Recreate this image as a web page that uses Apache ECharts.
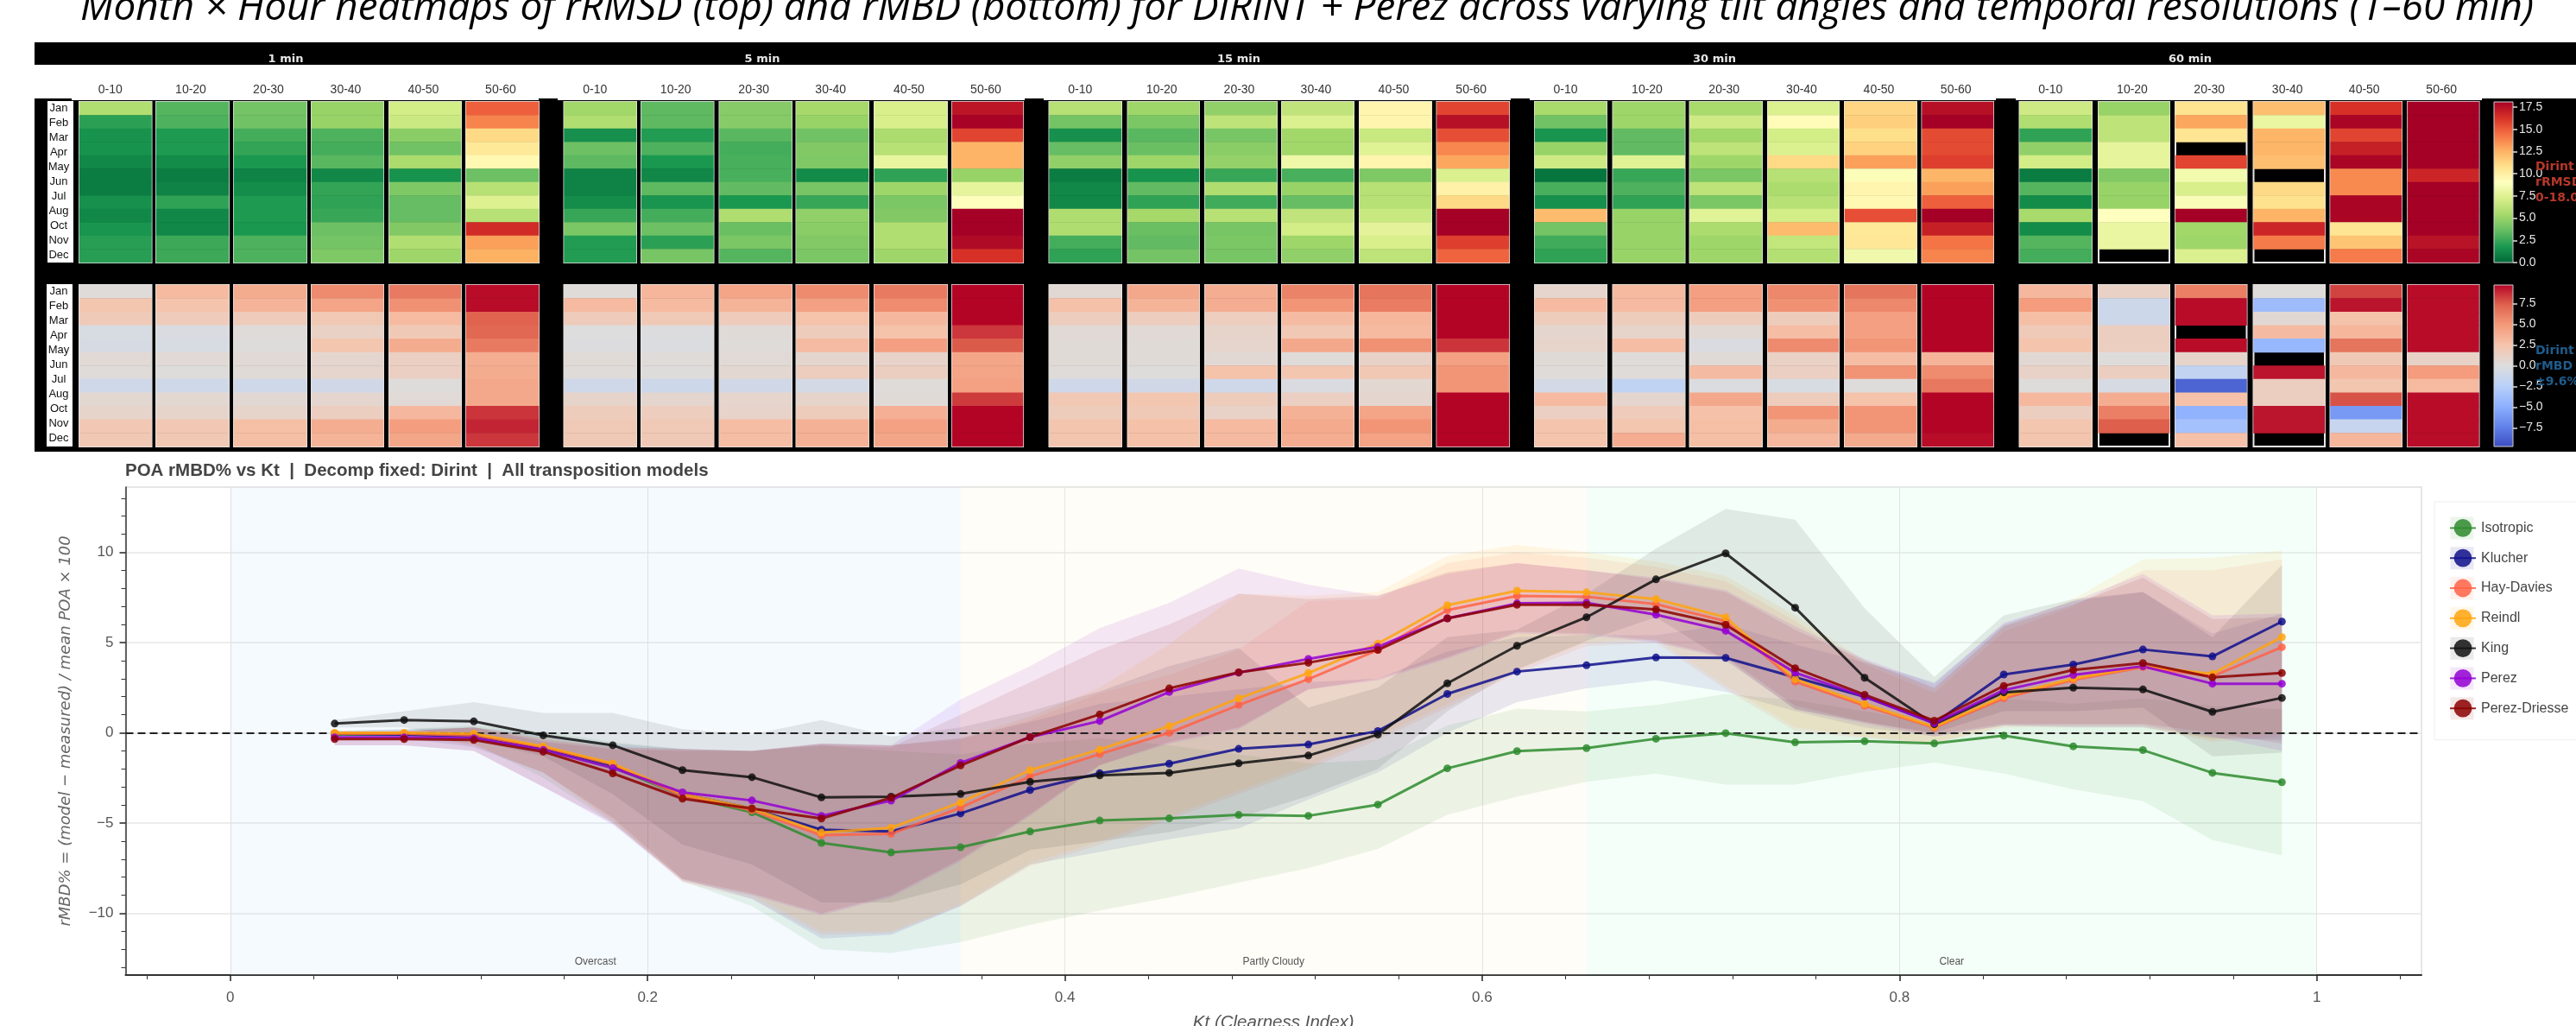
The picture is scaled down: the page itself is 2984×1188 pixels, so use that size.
<!DOCTYPE html>
<html>
<head>
<meta charset="utf-8">
<title>DIRINT + Perez heatmaps and rMBD vs Kt</title>
<style>
html, body { margin: 0; padding: 0; background: #fff; overflow: hidden; }
#main { width: 2984px; height: 1188px; }
</style>
<script src="https://cdn.jsdelivr.net/npm/echarts@6/dist/echarts.min.js"></script>
</head>
<body>
<div id="main"></div>
<script>
// heatmap categories
var tiltBins = ['0-10', '10-20', '20-30', '30-40', '40-50', '50-60'];
var monthRows = ['Jan', 'Feb', 'Mar', 'Apr', 'May', 'Jun', 'Jul', 'Aug', 'Sep', 'Oct', 'Nov', 'Dec'];
var monthLabels = ['Jan', 'Feb', 'Mar', 'Apr', 'May', 'Jun', 'Jul', 'Aug', 'Oct', 'Nov', 'Dec'];
var resolutions = ['1 min', '5 min', '15 min', '30 min', '60 min'];

// rRMSD % : one row per tilt bin, Jan..Dec, null = no data
var rmsd1 = [
  [5.8, 2.2, 1.6, 1.6, 1.2, 0.8, 0.8, 1.5, 1.2, 1.7, 2.1, 2.1],
  [3.2, 3.0, 1.9, 1.9, 1.3, 0.8, 1.0, 2.3, 1.2, 1.2, 2.6, 2.6],
  [4.0, 3.9, 2.8, 2.4, 1.8, 1.0, 1.4, 1.9, 1.9, 1.8, 3.0, 3.0],
  [5.0, 5.0, 3.0, 2.8, 3.3, 1.2, 2.4, 2.3, 2.5, 3.8, 4.0, 4.3],
  [7.0, 6.7, 4.6, 3.9, 5.6, 1.6, 4.3, 3.6, 3.6, 4.4, 5.8, 5.2],
  [14.8, 13.8, 11.0, 10.3, 9.4, 3.8, 6.0, 7.4, 6.0, 16.4, 13.0, 12.5]
];
var rmsd5 = [
  [5.3, 5.8, 1.5, 3.8, 3.4, 1.0, 1.0, 1.4, 2.5, 4.2, 2.0, 2.0],
  [3.4, 3.4, 2.0, 3.0, 1.8, 1.2, 3.4, 1.7, 2.8, 3.8, 2.2, 4.1],
  [4.5, 4.5, 3.3, 2.8, 2.9, 2.9, 3.5, 1.8, 5.7, 3.7, 4.2, 3.2],
  [5.4, 5.0, 3.9, 4.4, 4.3, 1.3, 4.1, 2.5, 4.8, 4.6, 4.4, 4.2],
  [7.2, 7.2, 5.6, 6.0, 7.9, 2.3, 5.2, 4.2, 4.4, 5.8, 5.8, 5.2],
  [17.2, 17.9, 15.6, 12.4, 12.4, 5.0, 7.8, 8.9, 18, 18, 17.6, 16.2]
];
var rmsd15 = [
  [6.0, 4.0, 1.5, 3.6, 4.8, 0.8, 1.2, 1.2, 5.7, 5.7, 2.8, 2.3],
  [5.2, 4.2, 3.3, 3.7, 5.2, 1.6, 3.5, 2.3, 5.4, 3.7, 3.5, 4.0],
  [4.8, 6.2, 4.1, 4.6, 4.9, 2.5, 5.7, 2.7, 6.0, 4.1, 4.2, 4.1],
  [6.3, 7.3, 5.3, 5.3, 8.2, 2.9, 5.0, 3.6, 6.3, 7.0, 5.2, 4.8],
  [9.6, 9.6, 6.6, 7.5, 9.6, 4.3, 6.0, 6.0, 6.6, 7.7, 7.2, 6.2],
  [15.6, 17.4, 15.3, 13.7, 12.8, 7.3, 9.8, 11.0, 18, 18, 15.8, 14.7]
];
var rmsd30 = [
  [5.5, 3.9, 1.7, 5.0, 6.8, 0.5, 2.9, 1.5, 12.1, 4.0, 2.7, 2.3],
  [5.2, 5.2, 3.5, 3.5, 7.5, 2.5, 3.0, 2.3, 5.0, 5.0, 5.0, 5.0],
  [5.5, 6.8, 5.3, 6.2, 5.2, 4.2, 6.2, 4.2, 7.6, 5.6, 5.2, 5.2],
  [7.3, 9.2, 7.0, 7.3, 11.0, 6.0, 5.6, 6.0, 7.0, 12.1, 6.4, 5.9],
  [11.2, 11.4, 10.8, 11.3, 13.0, 8.8, 9.6, 9.4, 15.3, 10.3, 10.4, 8.3],
  [17.4, 18, 15.4, 15.4, 15.8, 12.3, 13.0, 14.8, 18, 16.8, 14.2, 13.8]
];
var rmsd60 = [
  [6.8, 5.8, 2.3, 4.8, 7.0, 0.7, 3.2, 1.3, 5.5, 1.3, 3.2, 2.8],
  [5.0, 6.2, 6.2, 7.8, 7.8, 4.4, 5.0, 5.0, 9.0, 8.0, 8.0, null],
  [10.6, 12.8, 10.5, null, 15.6, 8.4, 7.2, 8.7, 18, 5.3, 5.2, 7.3],
  [12.0, 8.0, 12.3, 12.3, 12.0, null, 11.0, 10.7, 12.4, 16.6, 14.0, null],
  [16.2, 17.8, 15.6, 16.8, 17.8, 13.6, 13.6, 17.8, 17.8, 10.5, 11.8, 14.0],
  [18, 18, 18, 18, 18, 16.6, 18, 18, 18, 18, 17.3, 17.8]
];

// rMBD %
var mbd1 = [
  [0.2, 2.2, 1.8, -0.4, -0.5, 0.4, 0.2, -1.0, 0.6, 0.9, 2.0, 2.0],
  [3.0, 2.4, 1.7, -0.3, -0.4, 0.4, 0.1, -1.0, 0.6, 0.9, 2.0, 2.0],
  [3.8, 3.3, 1.7, 0.2, 0.1, 0.4, 0.3, -1.0, 0.5, 0.9, 2.7, 2.7],
  [5.5, 4.2, 2.0, 1.2, 2.2, 0.7, 0.8, -0.9, 0.7, 1.4, 3.7, 3.4],
  [6.2, 5.2, 3.0, 1.9, 3.8, 1.3, 1.3, 0.1, 0.4, 3.1, 4.6, 4.1],
  [9.4, 9.4, 7.2, 7.0, 6.2, 3.7, 3.8, 4.0, 4.0, 8.4, 8.8, 8.3]
];
var mbd5 = [
  [0.2, 3.0, 1.7, 0.0, -0.1, 0.3, 0.2, -1.0, 0.9, 1.6, 1.9, 1.9],
  [3.2, 3.0, 1.9, -0.1, -0.2, 0.2, 0.1, -1.1, 0.7, 1.5, 1.9, 1.9],
  [4.2, 3.4, 1.7, 0.3, 0.2, 0.4, 0.6, -0.9, 0.8, 1.0, 2.8, 2.8],
  [5.5, 4.4, 2.5, 1.6, 2.9, 0.7, 1.5, -0.7, 0.9, 1.6, 3.5, 3.5],
  [6.2, 5.4, 3.1, 2.5, 4.5, 1.0, 1.4, 0.2, 0.3, 3.6, 4.4, 4.1],
  [9.6, 9.6, 9.6, 8.3, 7.4, 4.1, 4.2, 4.4, 8.2, 9.6, 9.6, 9.6]
];
var mbd15 = [
  [0.5, 2.6, 1.5, 0.4, 0.3, 0.3, 0.2, -1.0, 2.0, 1.6, 2.3, 2.3],
  [4.0, 3.4, 1.5, 0.4, 0.3, 0.3, 0.1, -0.9, 2.2, 1.9, 2.6, 2.6],
  [3.7, 3.7, 1.5, 0.9, 0.8, 0.5, 2.5, -1.0, 1.6, 1.1, 3.0, 3.0],
  [5.8, 5.0, 2.9, 2.0, 4.0, 0.2, 2.2, -0.3, 1.3, 3.5, 3.9, 3.7],
  [6.4, 6.1, 3.2, 3.0, 5.2, 1.1, 2.0, 0.6, 0.7, 4.2, 5.0, 4.3],
  [9.6, 9.6, 9.6, 9.6, 8.4, 4.4, 5.0, 5.0, 9.6, 9.6, 9.6, 9.6]
];
var mbd30 = [
  [0.8, 3.0, 1.6, 0.7, 0.9, 0.3, 0.2, -0.7, 3.0, 1.3, 2.4, 2.4],
  [3.0, 3.0, 1.6, 0.9, 2.8, 0.2, 0.2, -1.9, 0.7, 1.7, 2.2, 3.7],
  [4.5, 4.5, 1.6, 0.5, -0.3, 0.3, 2.9, -0.2, 4.0, 2.6, 2.7, 2.7],
  [5.6, 5.2, 1.6, 2.8, 5.5, 1.2, 1.3, -0.4, 1.6, 5.0, 3.8, 3.1],
  [6.4, 5.6, 4.5, 4.5, 5.0, 2.8, 5.1, 0.1, 2.5, 5.0, 5.0, 3.9],
  [9.6, 9.6, 9.6, 9.6, 9.6, 3.3, 5.4, 6.3, 9.6, 9.6, 9.6, 9.4]
];
var mbd60 = [
  [3.1, 4.7, 2.7, 1.8, 2.4, 0.5, 1.1, 0.1, 3.1, 1.4, 2.2, 2.3],
  [1.2, -1.1, -1.1, 1.4, 1.4, 0.1, 1.4, -0.5, 3.7, 6.0, 7.3, null],
  [6.0, 9.4, 9.4, null, 9.4, 0.9, -1.8, -8.5, 2.6, -4.6, -3.5, 2.6],
  [0.1, -3.9, 0.5, 2.9, -4.2, null, 9.2, 1.4, 1.4, 9.2, 9.2, null],
  [8.0, 9.2, 2.5, 3.2, 6.4, 1.9, 3.1, 2.2, 7.6, -6.0, -1.5, 3.2],
  [9.4, 9.4, 9.4, 9.4, 9.4, 1.1, 4.7, 3.0, 9.4, 9.4, 9.4, 9.4]
];

// colorbar ticks
var rmsdTicks = [0, 2.5, 5, 7.5, 10, 12.5, 15, 17.5];
var mbdTicks = [-7.5, -5, -2.5, 0, 2.5, 5, 7.5];

// rMBD vs Kt
var ktBins = [0.05, 0.0833, 0.1167, 0.15, 0.1833, 0.2167, 0.25, 0.2833, 0.3167, 0.35, 0.3833, 0.4167, 0.45, 0.4833, 0.5167, 0.55, 0.5833, 0.6167, 0.65, 0.6833, 0.7167, 0.75, 0.7833, 0.8167, 0.85, 0.8833, 0.9167, 0.95, 0.9833];
var ktTicks = [0, 0.2, 0.4, 0.6, 0.8, 1];
var ktMinor = [-0.04, 0.04, 0.08, 0.12, 0.16, 0.24, 0.28, 0.32, 0.36, 0.44, 0.48, 0.52, 0.56, 0.64, 0.68, 0.72, 0.76, 0.84, 0.88, 0.92, 0.96, 1.04];
var rmbdTicks = [-10, -5, 0, 5, 10];
var rmbdMinor = [-13, -12, -11, -9, -8, -7, -6, -4, -3, -2, -1, 1, 2, 3, 4, 6, 7, 8, 9, 11, 12, 13];
var skyClasses = ['Overcast', 'Partly Cloudy', 'Clear'];

var isotropic = [-0.1, -0.1, -0.15, -0.9, -1.9, -3.5, -4.4, -6.1, -6.63, -6.34, -5.47, -4.86, -4.74, -4.55, -4.6, -3.98, -1.97, -1.02, -0.85, -0.33, -0.02, -0.53, -0.47, -0.59, -0.16, -0.75, -0.96, -2.22, -2.74];
var isotropicLow = [-0.2, -0.2, -0.6, -2.5, -5.0, -8.2, -9.6, -12.0, -12.2, -11.6, -10.65, -9.84, -9.13, -8.3, -7.5, -6.44, -4.55, -3.54, -2.72, -2.26, -2.87, -2.87, -2.17, -1.65, -2.26, -3.13, -3.78, -5.94, -6.79];
var isotropicHigh = [0.1, 0.2, 0.4, 0.05, -0.5, -0.9, -1.0, -0.7, -1.0, -1.2, -0.6, -0.3, -0.7, -1.2, -1.7, -1.5, 0.4, 1.34, 1.18, 1.54, 2.15, 1.8, 1.2, 0.5, 1.9, 1.6, 1.9, 1.5, 1.3];

var klucher = [-0.05, -0.1, -0.2, -0.85, -1.8, -3.4, -4.2, -5.37, -5.47, -4.47, -3.17, -2.24, -1.71, -0.89, -0.65, 0.1, 2.15, 3.39, 3.74, 4.17, 4.15, 3.07, 2.0, 0.53, 3.23, 3.78, 4.61, 4.23, 6.16];
var klucherLow = [-0.3, -0.3, -0.8, -2.2, -4.7, -8.1, -9.2, -11.4, -11.2, -9.6, -7.3, -6.6, -5.9, -5.3, -3.7, -2.2, 0, 1.7, 2.46, 2.9, 2.26, 1.2, 0.3, -0.2, 0.4, 0.3, 0.3, -0.3, -0.4];
var klucherHigh = [0.1, 0.2, 0.3, -0.1, -0.6, -0.9, -1.0, -0.6, -0.7, -0.3, 0.6, 1.6, 2.0, 2.4, 2.8, 3.0, 4.5, 5.3, 5.4, 5.4, 6.0, 4.9, 3.9, 2.8, 6.0, 7.3, 7.8, 5.5, 6.6];

var hayDavies = [-0.05, -0.05, -0.15, -0.8, -1.75, -3.5, -4.3, -5.67, -5.6, -4.15, -2.42, -1.18, 0, 1.54, 2.97, 4.59, 6.79, 7.58, 7.54, 7.13, 6.18, 2.83, 1.5, 0.28, 1.91, 2.93, 3.64, 3.13, 4.74];
var hayDaviesLow = [-0.1, -0.1, -0.7, -2.2, -4.9, -8.3, -9.2, -11.2, -11.1, -9.6, -7.4, -6.2, -4.8, -3.4, -2.0, -0.4, 1.4, 3.3, 4.8, 5.0, 2.4, 0.1, -0.3, -0.6, 0.3, 0.3, 0.3, -0.5, -0.2];
var hayDaviesHigh = [0.1, 0.1, 0.3, -0.3, -0.8, -0.9, -1.0, -0.6, -0.7, -0.4, 0.7, 2.2, 3.2, 4.6, 7.3, 7.4, 9.4, 10.0, 9.7, 9.2, 8.4, 6.2, 3.8, 2.2, 5.6, 7.0, 9.0, 9.0, 9.6];

var reindl = [0, 0, -0.05, -0.75, -1.7, -3.4, -4.2, -5.53, -5.26, -3.86, -2.07, -0.93, 0.37, 1.91, 3.31, 4.94, 7.07, 7.87, 7.78, 7.4, 6.4, 2.97, 1.6, 0.33, 2.03, 3.0, 3.68, 3.27, 5.3];
var reindlLow = [-0.1, -0.1, -0.7, -2.2, -4.8, -8.2, -9.0, -11.0, -11.0, -9.5, -7.2, -6.0, -4.6, -3.2, -1.8, -0.2, 1.6, 3.5, 5.0, 5.2, 2.6, 0.3, -0.2, -0.55, 0.4, 0.4, 0.4, -0.4, 0];
var reindlHigh = [0.1, 0.1, 0.3, -0.3, -0.8, -0.9, -1.0, -0.6, -0.7, -0.3, 0.9, 2.5, 4.9, 7.7, 7.6, 7.8, 9.8, 10.4, 10.0, 9.5, 8.7, 6.5, 4.0, 2.4, 5.9, 7.4, 9.6, 9.7, 10.1];

var king = [0.51, 0.71, 0.63, -0.14, -0.69, -2.07, -2.46, -3.58, -3.54, -3.39, -2.72, -2.36, -2.22, -1.69, -1.26, -0.1, 2.74, 4.82, 6.4, 8.5, 9.94, 6.93, 3.05, 0.47, 2.24, 2.5, 2.4, 1.16, 1.93];
var kingLow = [0.3, 0.3, -0.4, -1.3, -3.4, -6.2, -7.3, -9.4, -9.4, -8.4, -6.5, -6.0, -5.5, -4.7, -3.5, -2.0, 1.2, 3.5, 5.1, 6.4, 4.0, 1.3, 0.6, 0, 1.2, 1.2, 1.4, -1.3, -1.1];
var kingHigh = [0.7, 1.2, 1.7, 1.1, 1.1, 0.2, -0.1, 0.7, -0.2, 0.3, 1.2, 2.3, 3.7, 4.7, 1.4, 2.5, 5.3, 5.7, 7.7, 10.2, 12.4, 11.8, 6.9, 3.1, 6.5, 7.4, 7.8, 5.3, 9.3];

var perez = [-0.25, -0.25, -0.3, -0.95, -1.95, -3.3, -3.75, -4.6, -3.76, -1.67, -0.24, 0.65, 2.26, 3.33, 4.09, 4.76, 6.34, 7.17, 7.2, 6.54, 5.65, 3.33, 2.0, 0.53, 2.36, 3.2, 3.68, 2.72, 2.72];
var perezLow = [-0.7, -0.7, -1.0, -3.0, -5.1, -8.2, -9.0, -10.1, -9.1, -7.1, -4.6, -1.8, -0.6, 0.2, 2.4, 2.9, 4.1, 5.5, 5.4, 5.0, 4.1, 1.3, 0.5, -0.2, 0.4, 0.4, 0.4, -0.2, -1.0];
var perezHigh = [0, 0.1, 0.3, -0.4, -0.8, -0.9, -1.0, -0.6, -0.7, 1.85, 3.7, 5.8, 7.2, 9.1, 8.2, 7.6, 8.8, 9.4, 9.0, 8.6, 7.9, 5.9, 4.1, 2.7, 6.1, 7.3, 8.8, 6.5, 6.6];

var perezDriesse = [-0.35, -0.35, -0.4, -1.05, -2.25, -3.65, -4.2, -4.75, -3.6, -1.81, -0.24, 1.02, 2.46, 3.35, 3.88, 4.59, 6.34, 7.09, 7.09, 6.83, 5.98, 3.58, 2.11, 0.67, 2.6, 3.48, 3.86, 3.07, 3.31];
var perezDriesseLow = [-0.7, -0.7, -1.0, -3.0, -5.0, -8.1, -8.9, -10.0, -9.0, -7.0, -4.5, -1.8, -0.5, 0.3, 2.4, 3.0, 4.2, 5.6, 5.5, 5.1, 4.2, 1.5, 0.6, -0.1, 0.5, 0.5, 0.5, 0, -0.6];
var perezDriesseHigh = [0, 0.1, 0.3, -0.5, -0.9, -1.0, -1.0, -0.7, -0.8, 1.0, 2.8, 4.6, 6.0, 7.7, 7.4, 7.6, 8.9, 9.4, 9.0, 8.5, 7.8, 5.7, 4.0, 2.5, 5.9, 7.1, 8.6, 6.3, 6.4];

var rmsdPanels = [rmsd1, rmsd5, rmsd15, rmsd30, rmsd60];
var mbdPanels = [mbd1, mbd5, mbd15, mbd30, mbd60];

var models = [
  { name: 'Isotropic', color: '#2e8b2e', mean: isotropic, low: isotropicLow, high: isotropicHigh },
  { name: 'Klucher', color: '#10108c', mean: klucher, low: klucherLow, high: klucherHigh },
  { name: 'Hay-Davies', color: '#ff6347', mean: hayDavies, low: hayDaviesLow, high: hayDaviesHigh },
  { name: 'Reindl', color: '#ffa50f', mean: reindl, low: reindlLow, high: reindlHigh },
  { name: 'King', color: '#111111', mean: king, low: kingLow, high: kingHigh },
  { name: 'Perez', color: '#9400d3', mean: perez, low: perezLow, high: perezHigh },
  { name: 'Perez-Driesse', color: '#8b0000', mean: perezDriesse, low: perezDriesseLow, high: perezDriesseHigh }
];

// layout, px in the 2984x1188 frame
var panelCols = [
  [[92, 83.5], [181, 84], [271, 84], [361, 83], [451, 83], [540, 84]],
  [[653.5, 83.5], [743, 83.5], [833.5, 83.5], [922.5, 83.5], [1013, 84], [1103, 82]],
  [[1215.5, 83.5], [1306.5, 82.5], [1396, 83], [1485, 83], [1575, 83], [1664.5, 83.5]],
  [[1778, 83], [1868.5, 83], [1957.5, 83.5], [2048, 82], [2137, 83], [2226.5, 82.5]],
  [[2339.5, 83.5], [2431, 82], [2520, 82.5], [2610.5, 82.5], [2699.5, 82.5], [2789, 82.5]]
];
var headerBands = [[83, 624], [646, 1187], [1209, 1750], [1772, 2312], [2335, 2875]];
var panelTitleX = [331, 883, 1435, 1986, 2537];
var topRow = { y: 118, h: 186 };
var botRow = { y: 330, h: 187 };

var rmsdColors = ['#006837', '#1a9850', '#66bd63', '#a6d96a', '#d9ef8b', '#ffffbf', '#fee08b', '#fdae61', '#f46d43', '#d73027', '#a50026'];
var mbdColors = ['#3b4cc0', '#6282ea', '#8db0fe', '#b9d0f9', '#dddddd', '#f5c4ac', '#f49a7b', '#df634e', '#b40426'];
var sans = 'Liberation Sans';

var grids = [], xAxes = [], yAxes = [], series = [], rmsdSeries = [], mbdSeries = [];

function addHeatCell(col, pos, row, values, colorIndexList, withHeader) {
  var gi = grids.length;
  grids.push({ left: col[0], width: col[1], top: row.y, height: row.h, outerBoundsMode: 'none', show: true, borderColor: '#e6e6e6', borderWidth: 2, backgroundColor: 'transparent' });
  xAxes.push({
    gridIndex: gi, type: 'category', position: 'top', data: [tiltBins[pos]],
    axisLine: { show: false }, axisTick: { show: false },
    axisLabel: { show: withHeader, color: '#333', fontSize: 14, margin: 7, fontFamily: sans, padding: pos === 0 ? [0, 12, 0, 0] : [0, 4, 0, 0] }
  });
  yAxes.push({
    gridIndex: gi, type: 'category', inverse: true, data: monthRows,
    axisLine: { show: false }, axisLabel: { show: false }, splitLine: { show: false },
    axisTick: { alignWithLabel: true, length: 5, lineStyle: { color: '#d0d0d0', width: 1.5 } }
  });
  var cells = [];
  values.forEach(function (v, i) {
    if (v !== null) cells.push([0, i, v]);
  });
  colorIndexList.push(series.length);
  series.push({ type: 'heatmap', xAxisIndex: gi, yAxisIndex: gi, data: cells, silent: true });
}

function addMonthLabels(row) {
  var gi = grids.length;
  grids.push({ left: 85, width: 1, top: row.y - 1, height: 187, outerBoundsMode: 'none' });
  xAxes.push({ gridIndex: gi, type: 'value', show: false });
  yAxes.push({
    gridIndex: gi, type: 'category', inverse: true, data: monthLabels,
    axisLine: { show: false }, axisTick: { show: false }, splitLine: { show: false },
    axisLabel: { color: '#111', fontSize: 13, margin: 17, align: 'center', fontFamily: sans, interval: 0 }
  });
}

function addColorbar(row, colors, min, max, ticks) {
  var gi = grids.length;
  var stops = colors.map(function (c, i) {
    return { offset: 1 - i / (colors.length - 1), color: c };
  }).reverse();
  grids.push({
    left: 2889, width: 22, top: row.y, height: row.h, outerBoundsMode: 'none', show: true, borderColor: '#cfcfcf', borderWidth: 1,
    backgroundColor: new echarts.graphic.LinearGradient(0, 0, 0, 1, stops)
  });
  xAxes.push({ gridIndex: gi, type: 'category', show: false, data: [''] });
  yAxes.push({
    gridIndex: gi, type: 'value', position: 'right', min: min, max: max,
    axisLine: { show: false }, splitLine: { show: false },
    axisTick: { show: true, length: 5, customValues: ticks, lineStyle: { color: '#e0e0e0', width: 1.5 } },
    axisLabel: {
      customValues: ticks, color: '#e8e8e8', fontSize: 14, margin: 7, fontFamily: sans,
      formatter: function (v) { return v.toFixed(1).replace('-', '\u2212'); }
    }
  });
}

panelCols.forEach(function (cols, p) {
  cols.forEach(function (col, i) {
    addHeatCell(col, i, topRow, rmsdPanels[p][i], rmsdSeries, true);
    addHeatCell(col, i, botRow, mbdPanels[p][i], mbdSeries, false);
  });
});
addMonthLabels(topRow);
addMonthLabels(botRow);
addColorbar(topRow, rmsdColors, 0, 18.1, rmsdTicks);
addColorbar(botRow, mbdColors, -9.74, 9.74, mbdTicks);

// bottom chart
var mainGrid = grids.length;
grids.push({ left: 145.5, width: 2659.5, top: 564, height: 565, outerBoundsMode: 'none', show: true, borderColor: '#e6e6e6', borderWidth: 2, backgroundColor: 'transparent' });
var axisFont = { color: '#555', fontSize: 17, fontFamily: sans };
xAxes.push({
  gridIndex: mainGrid, type: 'value', position: 'bottom', min: -0.0502, max: 1.0502,
  name: 'Kt (Clearness Index)', nameLocation: 'middle', nameGap: 45,
  nameTextStyle: { color: '#555', fontSize: 20.5, fontStyle: 'italic', fontFamily: sans },
  axisLine: { onZero: false, lineStyle: { color: '#333', width: 2 } },
  axisTick: { customValues: ktTicks, length: 7, lineStyle: { color: '#222', width: 1.5 } },
  axisLabel: Object.assign({ customValues: ktTicks, margin: 18 }, axisFont),
  splitLine: { show: true, lineStyle: { color: '#e2e2e2', width: 1 } }
});
yAxes.push({
  gridIndex: mainGrid, type: 'value', position: 'left', min: -13.42, max: 13.61,
  name: 'rMBD% = (model \u2212 measured) / mean POA \u00d7 100', nameLocation: 'middle', nameGap: 60,
  nameTextStyle: { color: '#666', fontSize: 18, fontStyle: 'italic', fontFamily: 'DejaVu Sans' },
  axisLine: { onZero: false, lineStyle: { color: '#333', width: 1.5 } },
  axisTick: { customValues: rmbdTicks, length: 7, lineStyle: { color: '#222', width: 1.5 } },
  axisLabel: Object.assign({
    customValues: rmbdTicks, margin: 14,
    formatter: function (v) { return String(v).replace('-', '\u2212'); }
  }, axisFont),
  splitLine: { show: true, lineStyle: { color: '#e6e6e6', width: 1.5 } }
});
// second pair of axes only carries the shorter minor ticks
var mainX = xAxes.length - 1, mainY = yAxes.length - 1;
xAxes.push({
  gridIndex: mainGrid, type: 'value', position: 'bottom', min: -0.0502, max: 1.0502,
  axisLine: { show: false, onZero: false }, axisLabel: { show: false }, splitLine: { show: false },
  axisTick: { customValues: ktMinor, length: 5, lineStyle: { color: '#333', width: 1 } }
});
yAxes.push({
  gridIndex: mainGrid, type: 'value', position: 'left', min: -13.42, max: 13.61,
  axisLine: { show: false, onZero: false }, axisLabel: { show: false }, splitLine: { show: false },
  axisTick: { customValues: rmbdMinor, length: 5, lineStyle: { color: '#333', width: 1 } }
});

// sky class zones and the zero line
series.push({
  type: 'line', name: 'zones', xAxisIndex: mainX, yAxisIndex: mainY, data: [], silent: true, z: 1,
  markArea: {
    silent: true,
    label: { position: 'insideBottom', distance: 9, color: '#555', fontSize: 12, fontFamily: sans },
    data: [
      [{ name: skyClasses[0], xAxis: 0, itemStyle: { color: 'rgba(205,230,255,0.2)' } }, { xAxis: 0.35 }],
      [{ name: skyClasses[1], xAxis: 0.35, itemStyle: { color: 'rgba(255,245,215,0.2)' } }, { xAxis: 0.65 }],
      [{ name: skyClasses[2], xAxis: 0.65, itemStyle: { color: 'rgba(205,255,225,0.2)' } }, { xAxis: 1 }]
    ]
  },
  markLine: {
    silent: true, symbol: 'none', label: { show: false }, z: 3,
    lineStyle: { color: '#222', type: [9, 5], width: 2 },
    data: [{ yAxis: 0 }]
  }
});

function bandItem(points) {
  return function (params, api) {
    if (params.dataIndex !== 0) return null;
    var upper = points.map(function (p) { return api.coord([p[0], p[2]]); });
    var lower = points.map(function (p) { return api.coord([p[0], p[1]]); }).reverse();
    return {
      type: 'polygon',
      shape: { points: upper.concat(lower) },
      style: { fill: api.visual('color'), opacity: 0.09 },
      silent: true
    };
  };
}

models.forEach(function (m) {
  var pts = ktBins.map(function (k, i) { return [k, m.low[i], m.high[i]]; });
  series.push({
    type: 'custom', name: m.name + ' band', xAxisIndex: mainX, yAxisIndex: mainY, z: 2, silent: true,
    itemStyle: { color: m.color }, renderItem: bandItem(pts), encode: { x: 0, y: [1, 2] }, data: pts
  });
});
models.forEach(function (m) {
  series.push({
    type: 'line', name: m.name, xAxisIndex: mainX, yAxisIndex: mainY, z: 4, silent: true,
    data: ktBins.map(function (k, i) { return [k, m.mean[i]]; }),
    symbol: 'circle', symbolSize: 9, showSymbol: true,
    lineStyle: { color: m.color, width: 3, opacity: 0.85 },
    itemStyle: { color: m.color, opacity: 0.85 }
  });
});

// page furniture: black backing, white header strips, month boxes
var graphics = [
  { type: 'rect', z: -1, shape: { x: 40, y: 49, width: 2944, height: 26 }, style: { fill: '#000' } },
  { type: 'rect', z: -1, shape: { x: 40, y: 114, width: 2944, height: 409 }, style: { fill: '#000' } },
  { type: 'rect', z: -1, shape: { x: 55, y: 117, width: 30, height: 187 }, style: { fill: '#fff' } },
  { type: 'rect', z: -1, shape: { x: 54, y: 329, width: 30, height: 188 }, style: { fill: '#fff' } },
  {
    type: 'text', z: 10, x: 1514, y: 33,
    style: {
      text: 'Month \u00d7 Hour heatmaps of rRMSD (top) and rMBD (bottom) for DIRINT + Perez across varying tilt angles and temporal resolutions (1\u201360 min)',
      fill: '#000', font: 'italic 45.8px "Open Sans"', textAlign: 'center', textVerticalAlign: 'bottom'
    }
  },
  {
    type: 'text', z: 10, x: 2937, y: 211,
    style: { text: 'Dirint\nrRMSD\n0-18.0%', fill: '#b5382a', font: 'bold 14px "DejaVu Sans"', lineHeight: 18, textAlign: 'left', textVerticalAlign: 'middle' }
  },
  {
    type: 'text', z: 10, x: 2937, y: 424,
    style: { text: 'Dirint\nrMBD\n\u00b19.6%', fill: '#1f5c8c', font: 'bold 14px "DejaVu Sans"', lineHeight: 18, textAlign: 'left', textVerticalAlign: 'middle' }
  }
];
headerBands.forEach(function (b) {
  graphics.push({ type: 'rect', z: -1, shape: { x: b[0], y: 110, width: b[1] - b[0], height: 6 }, style: { fill: '#fff' } });
});
// pale swatches behind the legend glyphs
models.forEach(function (m, i) {
  graphics.push({
    type: 'rect', silent: true,
    shape: { x: 2838.5, y: 598.5 + i * 34.8, width: 27, height: 26 },
    style: { fill: m.color, opacity: 0.09 }
  });
});

var titles = [{
  text: 'POA rMBD% vs Kt  |  Decomp fixed: Dirint  |  All transposition models',
  left: 145, top: 535,  padding: 0,
  textStyle: { color: '#444', fontSize: 20.5, fontWeight: 'bold', fontFamily: sans }
}];
resolutions.forEach(function (r, i) {
  titles.push({
    text: r, left: panelTitleX[i], top: 62, padding: 0, textAlign: 'center',
    textStyle: { color: '#e6e6e6', fontSize: 13, fontWeight: 'bold', fontFamily: 'DejaVu Sans' }
  });
});

var chart = echarts.init(document.getElementById('main'));
chart.setOption({
  animation: false,
  backgroundColor: '#fff',
  textStyle: { fontFamily: sans },
  title: titles,
  grid: grids,
  xAxis: xAxes,
  yAxis: yAxes,
  graphic: { elements: graphics },
  visualMap: [
    { show: false, type: 'continuous', min: 0, max: 18, dimension: 2, seriesIndex: rmsdSeries, inRange: { color: rmsdColors } },
    { show: false, type: 'continuous', min: -9.6, max: 9.6, dimension: 2, seriesIndex: mbdSeries, inRange: { color: mbdColors } }
  ],
  legend: {
    z: -1,
    orient: 'vertical', left: 2820, top: 581,
    data: models.map(function (m) { return m.name; }),
    itemWidth: 30, itemHeight: 26, itemGap: 14, symbolSize: 13,
    padding: [20, 10, 26, 17],
    backgroundColor: '#fff', borderColor: '#eeeeee', borderWidth: 1,
    textStyle: { color: '#444', fontSize: 16, fontFamily: sans, padding: [0, 0, 0, 1] }
  },
  series: series
});
</script>
</body>
</html>
